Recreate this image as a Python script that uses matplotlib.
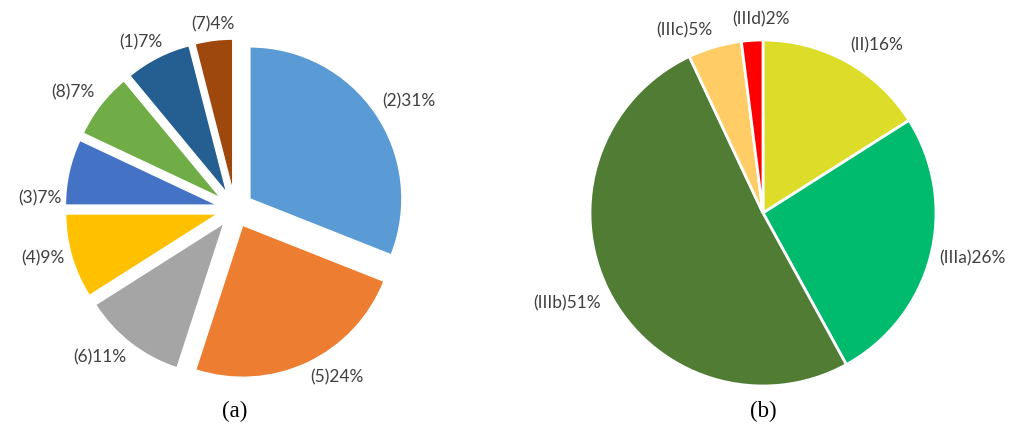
import numpy as np
import matplotlib.pyplot as plt

# left pie (a)
labels_a = ["(2)31%", "(5)24%", "(6)11%", "(4)9%", "(3)7%", "(8)7%", "(1)7%", "(7)4%"]
values_a = [31, 24, 11, 9, 7, 7, 7, 4]
colors_a = ["#5B9BD5", "#ED7D31", "#A5A5A5", "#FFC000", "#4472C4", "#70AD47", "#255E91", "#9E480E"]

# right pie (b)
labels_b = ["(II)16%", "(IIIa)26%", "(IIIb)51%", "(IIIc)5%", "(IIId)2%"]
values_b = [16, 26, 51, 5, 2]
colors_b = ["#DDDC28", "#00BA6D", "#507C34", "#FFCC66", "#FF0000"]

W, H = 1023, 426
fig = plt.figure(figsize=(W / 100, H / 100), dpi=100)
ax = fig.add_axes([0, 0, 1, 1])

txt = dict(fontsize=12.5, color="#404040", family="Lato")


def place_labels(wedges, texts, r, nudge=None):
    # excel-like outside-end labels: box edge just outside the rim
    for i, (wd, tt) in enumerate(zip(wedges, texts)):
        a = np.deg2rad((wd.theta1 + wd.theta2) / 2)
        c, s = np.cos(a), np.sin(a)
        x = wd.center[0] + 1.05 * r * c
        y = wd.center[1] + 1.05 * r * s
        if nudge and i in nudge:
            x += nudge[i][0]
            y += nudge[i][1]
        tt.set_position((x, y))
        tt.set_ha("left" if c > 0.2 else ("right" if c < -0.2 else "center"))
        tt.set_va("center" if abs(s) < 0.35 else ("bottom" if s > 0 else "top"))


w, t = ax.pie(values_a, colors=colors_a, labels=labels_a, startangle=90, counterclock=False,
              center=(235, 217), radius=152, explode=[18] * len(values_a),
              textprops=txt, wedgeprops=dict(edgecolor="white", linewidth=1))
place_labels(w, t, 152, nudge={4: (0, -28), 6: (8, 0)})

w, t = ax.pie(values_b, colors=colors_b, labels=labels_b, startangle=90, counterclock=False,
              center=(763, 213), radius=173, textprops=txt,
              wedgeprops=dict(edgecolor="white", linewidth=2))
place_labels(w, t, 173, nudge={4: (9, 4)})

ax.set_xlim(0, W)
ax.set_ylim(0, H)
ax.set_aspect("equal")
ax.axis("off")

ax.text(235, 15, "(a)", ha="center", va="center", fontsize=16.5, family="Liberation Serif")
ax.text(763, 15, "(b)", ha="center", va="center", fontsize=16.5, family="Liberation Serif")

fig.savefig("out.png", dpi=100)
